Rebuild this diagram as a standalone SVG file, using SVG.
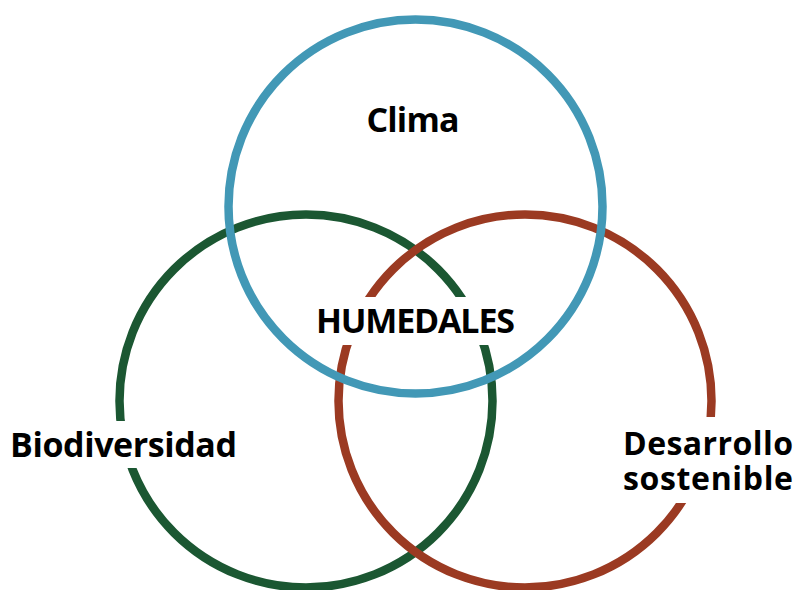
<svg xmlns="http://www.w3.org/2000/svg" width="795" height="590" viewBox="0 0 795 590">
<style>
.ring{fill:none;stroke-width:8.5}
.bg{fill:#ffffff}
.lbl{font-family:"Open Sans","Noto Sans","DejaVu Sans",sans-serif;font-weight:700;font-size:34px;fill:#000000}
.sm{font-size:32px}
</style>
<rect width="795" height="590" fill="#ffffff"/>
<g id="connectors"></g>
<g id="circle-biodiversidad"><circle class="ring" cx="306" cy="401" r="186.5" stroke="#1b5732"/></g>
<g id="circle-desarrollo"><circle class="ring" cx="525" cy="401" r="186.5" stroke="#9b3a22"/></g>
<g id="circle-clima"><circle class="ring" cx="415.5" cy="206.5" r="187" stroke="#4298b6"/></g>
<g id="node-clima">
<text class="lbl" x="413" y="132" text-anchor="middle" textLength="93">Clima</text>
</g>
<g id="node-humedales">
<rect class="bg" x="308" y="297" width="215" height="48"/>
<text class="lbl" x="415.5" y="333" text-anchor="middle" textLength="199">HUMEDALES</text>
</g>
<g id="node-biodiversidad">
<rect class="bg" x="2" y="421" width="243" height="47"/>
<text class="lbl" x="10" y="457" textLength="227">Biodiversidad</text>
</g>
<g id="node-desarrollo">
<rect class="bg" x="615" y="417" width="180" height="86"/>
<text class="lbl sm" x="623" y="455" textLength="170">Desarrollo</text>
<text class="lbl sm" x="623" y="490" textLength="170">sostenible</text>
</g>
</svg>
